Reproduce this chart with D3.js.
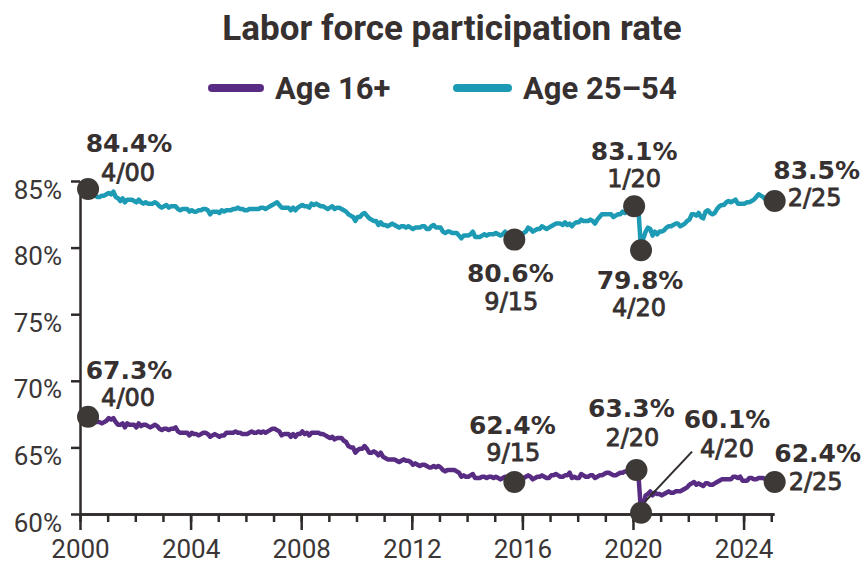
<!DOCTYPE html>
<html>
<head>
<meta charset="utf-8">
<script src="https://cdn.jsdelivr.net/npm/d3@7"></script>
<style>
  body { margin: 0; background: #fff; }
  svg text { fill: #363130; }
</style>
</head>
<body>
<svg id="chart" width="864" height="564"></svg>
<script>
/* Data : monthly labor force participation rate, Jan 2000 -> Feb 2025 */
const startYear = 2000;

// Age 16+
const age16Rates = [
  67.3, 67.3, 67.3, 67.3, 67.1, 67.1, 66.9, 66.9, 66.9, 66.8, 66.9, 67.0, // 2000
  67.2, 67.1, 67.2, 66.9, 66.7, 66.7, 66.8, 66.5, 66.8, 66.7, 66.7, 66.7, // 2001
  66.5, 66.8, 66.6, 66.7, 66.7, 66.6, 66.5, 66.6, 66.7, 66.6, 66.4, 66.3, // 2002
  66.4, 66.4, 66.3, 66.4, 66.4, 66.5, 66.2, 66.1, 66.1, 66.1, 66.1, 65.9, // 2003
  66.1, 66.0, 66.0, 65.9, 66.0, 66.1, 66.1, 66.0, 65.8, 65.9, 66.0, 65.9, // 2004
  65.8, 65.9, 65.9, 66.1, 66.1, 66.1, 66.1, 66.2, 66.1, 66.1, 66.0, 66.0, // 2005
  66.0, 66.1, 66.2, 66.1, 66.1, 66.2, 66.1, 66.2, 66.1, 66.2, 66.3, 66.4, // 2006
  66.4, 66.3, 66.2, 65.9, 66.0, 66.0, 66.0, 65.8, 66.0, 65.8, 66.0, 66.0, // 2007
  66.2, 66.0, 66.1, 65.9, 66.1, 66.1, 66.1, 66.1, 66.0, 66.0, 65.9, 65.8, // 2008
  65.7, 65.8, 65.6, 65.7, 65.7, 65.7, 65.5, 65.4, 65.1, 65.0, 65.0, 64.6, // 2009
  64.8, 64.9, 64.9, 65.1, 64.9, 64.6, 64.6, 64.7, 64.6, 64.4, 64.6, 64.3, // 2010
  64.2, 64.1, 64.1, 64.1, 64.1, 64.0, 63.9, 64.0, 64.1, 64.0, 64.0, 63.9, // 2011
  63.7, 63.8, 63.7, 63.6, 63.7, 63.7, 63.6, 63.5, 63.5, 63.6, 63.5, 63.6, // 2012
  63.5, 63.3, 63.2, 63.3, 63.3, 63.3, 63.3, 63.2, 63.1, 62.8, 62.9, 62.8, // 2013
  62.8, 62.9, 63.0, 62.7, 62.7, 62.7, 62.8, 62.8, 62.7, 62.8, 62.8, 62.7, // 2014
  62.8, 62.7, 62.6, 62.7, 62.8, 62.6, 62.6, 62.6, 62.4, 62.5, 62.5, 62.6, // 2015
  62.7, 62.8, 62.9, 62.8, 62.6, 62.7, 62.8, 62.8, 62.9, 62.8, 62.7, 62.7, // 2016
  62.9, 62.9, 63.0, 62.9, 62.8, 62.8, 62.9, 62.9, 63.1, 62.7, 62.8, 62.7, // 2017
  62.7, 63.0, 62.9, 62.8, 62.8, 62.9, 62.9, 62.7, 62.8, 62.9, 62.9, 63.0, // 2018
  63.1, 63.1, 63.0, 62.9, 62.9, 63.0, 63.1, 63.1, 63.2, 63.2, 63.2, 63.3, // 2019
  63.2, 63.3, 62.6, 60.1, 60.7, 61.4, 61.5, 61.7, 61.4, 61.6, 61.5, 61.5, // 2020
  61.4, 61.5, 61.6, 61.7, 61.6, 61.6, 61.7, 61.7, 61.7, 61.8, 61.9, 62.0, // 2021
  62.2, 62.3, 62.4, 62.2, 62.3, 62.2, 62.1, 62.3, 62.3, 62.2, 62.2, 62.3, // 2022
  62.4, 62.5, 62.6, 62.6, 62.6, 62.6, 62.6, 62.8, 62.8, 62.7, 62.8, 62.5, // 2023
  62.5, 62.5, 62.7, 62.7, 62.6, 62.6, 62.7, 62.7, 62.7, 62.6, 62.5, 62.5, // 2024
  62.6, 62.4                                                              // 2025
];

// Age 25-54
const age2554Rates = [
  84.0, 84.1, 84.2, 84.4, 84.0, 84.1, 83.9, 83.8, 83.8, 83.9, 83.9, 84.0, // 2000
  84.1, 84.0, 84.2, 83.8, 83.7, 83.5, 83.7, 83.4, 83.6, 83.6, 83.6, 83.5, // 2001
  83.4, 83.6, 83.4, 83.3, 83.4, 83.3, 83.3, 83.3, 83.4, 83.3, 83.1, 83.0, // 2002
  83.1, 83.2, 83.0, 83.1, 83.1, 83.1, 82.9, 82.8, 82.9, 82.9, 82.9, 82.7, // 2003
  82.8, 82.7, 82.7, 82.8, 82.8, 82.9, 82.9, 82.8, 82.5, 82.7, 82.7, 82.7, // 2004
  82.6, 82.8, 82.7, 82.8, 82.8, 82.8, 82.9, 82.9, 83.0, 82.9, 82.9, 82.8, // 2005
  82.8, 82.9, 82.9, 82.9, 82.9, 82.9, 83.0, 83.0, 82.9, 83.0, 83.1, 83.2, // 2006
  83.3, 83.4, 83.2, 83.0, 83.0, 83.0, 83.0, 82.8, 83.0, 82.8, 83.0, 83.1, // 2007
  83.2, 83.1, 83.1, 83.0, 83.3, 83.2, 83.3, 83.2, 83.1, 83.1, 83.0, 82.9, // 2008
  83.0, 83.1, 82.9, 83.0, 83.0, 82.9, 82.8, 82.7, 82.5, 82.4, 82.3, 82.0, // 2009
  82.3, 82.3, 82.5, 82.6, 82.4, 82.2, 82.1, 82.0, 82.0, 81.7, 81.9, 81.7, // 2010
  81.7, 81.6, 81.7, 81.8, 81.7, 81.6, 81.5, 81.6, 81.6, 81.5, 81.6, 81.5, // 2011
  81.4, 81.5, 81.5, 81.5, 81.6, 81.6, 81.4, 81.4, 81.6, 81.7, 81.5, 81.5, // 2012
  81.5, 81.2, 81.1, 81.2, 81.2, 81.1, 81.1, 81.1, 80.9, 80.7, 80.9, 80.9, // 2013
  80.9, 81.0, 81.2, 80.8, 80.8, 80.8, 80.9, 81.0, 80.9, 81.0, 81.0, 81.0, // 2014
  81.1, 81.0, 80.9, 81.0, 81.2, 81.0, 80.9, 81.0, 80.6, 80.8, 80.9, 81.0, // 2015
  81.1, 81.2, 81.5, 81.4, 81.2, 81.3, 81.4, 81.4, 81.6, 81.5, 81.4, 81.5, // 2016
  81.6, 81.7, 81.8, 81.8, 81.8, 81.7, 81.9, 81.7, 81.8, 81.6, 81.8, 81.9, // 2017
  81.9, 82.1, 82.0, 82.0, 82.0, 82.1, 82.0, 81.8, 82.1, 82.3, 82.5, 82.5, // 2018
  82.5, 82.5, 82.5, 82.3, 82.4, 82.5, 82.5, 82.7, 82.6, 82.8, 82.8, 82.9, // 2019
  83.1, 83.0, 82.5, 79.8, 80.7, 81.2, 81.5, 81.4, 80.9, 81.2, 81.0, 81.2, // 2020
  81.2, 81.3, 81.5, 81.6, 81.6, 81.7, 81.8, 81.8, 81.6, 81.7, 81.8, 82.0, // 2021
  82.1, 82.5, 82.5, 82.4, 82.6, 82.3, 82.2, 82.7, 82.8, 82.6, 82.5, 82.6, // 2022
  82.9, 83.1, 83.2, 83.2, 83.4, 83.5, 83.4, 83.5, 83.6, 83.3, 83.3, 83.3, // 2023
  83.3, 83.4, 83.4, 83.5, 83.6, 83.8, 84.0, 83.9, 83.8, 83.6, 83.5, 83.4, // 2024
  83.6, 83.5                                                              // 2025
];

// highlighted months [year, month]
const callouts16 = [[2000, 4], [2015, 9], [2020, 2], [2020, 4], [2025, 2]];
const callouts2554 = [[2000, 4], [2015, 9], [2020, 1], [2020, 4], [2025, 2]];

const yTicks = [60, 65, 70, 75, 80, 85];
const xTicksMajor = [2000, 2004, 2008, 2012, 2016, 2020, 2024];
const xTicksMinor = d3.range(2000, 2026);

const seriesNames = ['Age 16+', 'Age 25\u201354'];
const titleText = 'Labor force participation rate';

/* Layout / style */
const color16 = '#582c83';
const color2554 = '#1e9bb4';
const axisColor = '#2f2b2a';
const markerColor = '#3d3937';

const x = d3.scaleLinear().domain([2000, 2025.1]).range([80, 774]);
const y = d3.scaleLinear().domain([60, 85]).range([514, 181]);

// label offsets from marker centre : v = value label, d = date label
const calloutLayout = {
  '2554-4/00': { vx: 41, vy: -37, dx: 40, dy: -8 },
  '2554-9/15': { vx: -4, vy: 42, dx: -3, dy: 70 },
  '2554-1/20': { vx: 0, vy: -46, dx: 0, dy: -19 },
  '2554-4/20': { vx: -1, vy: 39, dx: -2, dy: 66 },
  '2554-2/25': { vx: 42, vy: -22, dx: 13, dy: 5, dAnchor: 'start' },
  '16-4/00':   { vx: 41, vy: -38, dx: 40, dy: -11 },
  '16-9/15':   { vx: -2, vy: -48, dx: -1, dy: -21 },
  '16-2/20':   { vx: -5, vy: -53, dx: -4, dy: -24 },
  '16-4/20':   { vx: 86, vy: -85, dx: 86, dy: -56, leader: [4, -11, 51, -61] },
  '16-2/25':   { vx: 43, vy: -20, dx: 14, dy: 8, dAnchor: 'start' }
};

function toPoints(values) {
  return values.map((v, i) => ({ t: startYear + (i + 0.5) / 12, v: v }));
}

function buildCallouts(key, values, list) {
  return list.map(([yr, m]) => {
    const i = (yr - startYear) * 12 + (m - 1);
    const label = m + '/' + String(yr % 100).padStart(2, '0');
    return { key: key + '-' + label, t: startYear + (i + 0.5) / 12, v: values[i], label: label };
  });
}

const svg = d3.select('#chart');

function drawTitle() {
  svg.append('text')
    .attr('x', 452).attr('y', 40)
    .attr('text-anchor', 'middle')
    .style('font-family', 'Roboto, sans-serif')
    .style('font-weight', 700)
    .style('font-size', '35px')
    .text(titleText);

  const legend = [
    { name: seriesNames[0], color: color16, x0: 212, x1: 260, tx: 275 },
    { name: seriesNames[1], color: color2554, x0: 457, x1: 508, tx: 523 }
  ];
  const g = svg.append('g').attr('class', 'legend');
  legend.forEach(d => {
    g.append('line')
      .attr('x1', d.x0).attr('x2', d.x1)
      .attr('y1', 88).attr('y2', 88)
      .attr('stroke', d.color).attr('stroke-width', 8)
      .attr('stroke-linecap', 'round');
    g.append('text')
      .attr('x', d.tx).attr('y', 99)
      .style('font-family', 'Roboto, sans-serif')
      .style('font-weight', 700)
      .style('font-size', '31px')
      .text(d.name);
  });
}

function drawAxes() {
  const gy = svg.append('g')
    .attr('transform', 'translate(' + x.range()[0] + ',0)')
    .call(d3.axisLeft(y).tickValues(yTicks).tickSize(9).tickSizeOuter(0)
      .tickPadding(9).tickFormat(d => d + '%'));

  const gxMinor = svg.append('g')
    .attr('transform', 'translate(0,' + y.range()[0] + ')')
    .call(d3.axisBottom(x).tickValues(xTicksMinor).tickSize(8).tickSizeOuter(0).tickFormat(''));

  const gx = svg.append('g')
    .attr('transform', 'translate(0,' + y.range()[0] + ')')
    .call(d3.axisBottom(x).tickValues(xTicksMajor).tickSize(16).tickSizeOuter(0)
      .tickPadding(4).tickFormat(d3.format('d')));

  [gy, gxMinor, gx].forEach(g => {
    g.selectAll('path, line').attr('stroke', axisColor).attr('stroke-width', 2.5);
    g.selectAll('text')
      .style('font-family', 'Roboto, sans-serif')
      .style('font-size', '26px')
      .style('fill', '#3a3636');
  });
  gy.selectAll('text').attr('dy', '0.85em').attr('y', -5);
  gx.selectAll('text').attr('dy', '0').attr('y', 44);
}

function drawSeries(values, color) {
  const line = d3.line().x(d => x(d.t)).y(d => y(d.v));
  svg.append('path')
    .datum(toPoints(values))
    .attr('fill', 'none')
    .attr('stroke', color)
    .attr('stroke-width', 4.5)
    .attr('stroke-linejoin', 'round')
    .attr('d', line);
}

function drawCallouts(items) {
  const g = svg.append('g').attr('class', 'callouts');
  items.forEach(c => {
    const lay = calloutLayout[c.key];
    const mx = x(c.t), my = y(c.v);
    if (lay.leader) {
      g.append('line')
        .attr('x1', mx + lay.leader[0]).attr('y1', my + lay.leader[1])
        .attr('x2', mx + lay.leader[2]).attr('y2', my + lay.leader[3])
        .attr('stroke', axisColor).attr('stroke-width', 2);
    }
    g.append('circle')
      .attr('cx', mx).attr('cy', my).attr('r', 11)
      .attr('fill', markerColor);
    g.append('text')
      .attr('x', mx + lay.vx).attr('y', my + lay.vy)
      .attr('text-anchor', 'middle')
      .style('font-family', '"DejaVu Sans", sans-serif')
      .style('font-weight', 700)
      .style('font-size', '25px')
      .text(d3.format('.1f')(c.v) + '%');
    // date labels are a medium weight in the original : thicken a bit
    g.append('text')
      .attr('x', mx + lay.dx).attr('y', my + lay.dy)
      .attr('text-anchor', lay.dAnchor || 'middle')
      .style('font-family', '"DejaVu Sans", sans-serif')
      .style('font-size', '24px')
      .style('stroke', '#363130')
      .style('stroke-width', 0.8)
      .text(c.label);
  });
}

drawTitle();
drawAxes();
drawSeries(age2554Rates, color2554);
drawSeries(age16Rates, color16);
drawCallouts(buildCallouts('2554', age2554Rates, callouts2554).concat(buildCallouts('16', age16Rates, callouts16)));
</script>
</body>
</html>
